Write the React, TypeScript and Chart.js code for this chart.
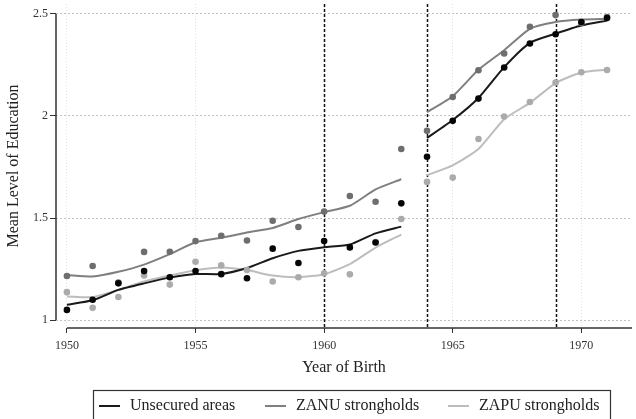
import React, { useEffect, useRef } from "react";
import { Chart, registerables } from "chart.js";

Chart.register(...registerables);

// ---- data ----
const years = [1950, 1951, 1952, 1953, 1954, 1955, 1956, 1957, 1958, 1959, 1960, 1961, 1962, 1963, 1964, 1965, 1966, 1967, 1968, 1969, 1970, 1971];
const unsecuredPoints = [1.05, 1.1, 1.18, 1.24, 1.21, 1.24, 1.225, 1.205, 1.35, 1.28, 1.387, 1.356, 1.38, 1.572, 1.8, 1.976, 2.085, 2.237, 2.355, 2.4, 2.46, 2.48];
const zanuPoints = [1.216, 1.265, 1.184, 1.334, 1.335, 1.387, 1.413, 1.39, 1.487, 1.456, 1.532, 1.608, 1.58, 1.838, 1.927, 2.093, 2.224, 2.306, 2.437, 2.494, 2.455, 2.485];
const zapuPoints = [1.137, 1.06, 1.113, 1.219, 1.174, 1.286, 1.268, 1.245, 1.189, 1.21, 1.229, 1.224, 1.382, 1.495, 1.677, 1.698, 1.887, 1.997, 2.068, 2.164, 2.214, 2.225];
const unsecuredFit = [1.075, 1.097, 1.148, 1.18, 1.208, 1.226, 1.226, 1.255, 1.303, 1.339, 1.357, 1.37, 1.425, 1.458, 1.892, 1.98, 2.088, 2.239, 2.358, 2.403, 2.443, 2.467];
const zanuFit = [1.221, 1.214, 1.237, 1.272, 1.323, 1.381, 1.403, 1.429, 1.451, 1.495, 1.529, 1.56, 1.64, 1.69, 2.019, 2.097, 2.226, 2.322, 2.427, 2.46, 2.472, 2.476];
const zapuFit = [1.116, 1.113, 1.148, 1.189, 1.218, 1.244, 1.258, 1.245, 1.218, 1.21, 1.225, 1.274, 1.355, 1.419, 1.71, 1.758, 1.838, 1.984, 2.064, 2.161, 2.213, 2.226];
const seriesNames = ["Unsecured areas", "ZANU strongholds", "ZAPU strongholds"];
const breakYears = [1960, 1964, 1969];
const xTicks = [1950, 1955, 1960, 1965, 1970];
const yTicks = [1, 1.5, 2, 2.5];
const lastYearBeforeGap = 1963;

const FONT = "'Liberation Serif', 'DejaVu Serif', serif";
const lineColors = ["#1a1a1a", "#7f7f7f", "#bdbdbd"];
const pointColors = ["#050505", "#6e6e6e", "#ababab"];

function toPoints(vals: number[]) {
  return years.map((yr, i) => ({ x: yr, y: vals[i] }));
}
function toLine(vals: number[]) {
  const out: { x: number; y: number | null }[] = [];
  years.forEach((yr, i) => {
    out.push({ x: yr, y: vals[i] });
    if (yr === lastYearBeforeGap) out.push({ x: yr + 0.5, y: null });
  });
  return out;
}

const decorPlugin = {
  id: "decor",
  beforeDatasetsDraw(chart: any) {
    const { ctx, chartArea, scales } = chart;
    ctx.save();
    ctx.strokeStyle = "#111";
    ctx.lineWidth = 1.5;
    ctx.setLineDash([3, 2]);
    breakYears.forEach((yr) => {
      const px = Math.round(scales.x.getPixelForValue(yr)) + 0.5;
      ctx.beginPath();
      ctx.moveTo(px, chartArea.top);
      ctx.lineTo(px, chartArea.bottom);
      ctx.stroke();
    });
    ctx.restore();
  },
  afterDraw(chart: any) {
    const { ctx, chartArea, scales } = chart;
    ctx.save();
    // axes
    ctx.strokeStyle = "#333";
    ctx.lineWidth = 1.5;
    ctx.setLineDash([]);
    const ax = chartArea.left;
    ctx.beginPath();
    ctx.moveTo(ax, scales.y.getPixelForValue(yTicks[yTicks.length - 1]));
    ctx.lineTo(ax, scales.y.getPixelForValue(yTicks[0]));
    ctx.stroke();
    ctx.beginPath();
    ctx.moveTo(scales.x.getPixelForValue(xTicks[0]), chartArea.bottom);
    ctx.lineTo(chartArea.right, chartArea.bottom);
    ctx.stroke();

    // legend
    ctx.font = `16px ${FONT}`;
    ctx.textBaseline = "middle";
    ctx.textAlign = "left";
    const top = 390;
    const cy = 406;
    const starts = [99, 265, 448];
    let right = 610;
    seriesNames.forEach((name, i) => {
      const x0 = starts[i];
      ctx.strokeStyle = lineColors[i];
      ctx.lineWidth = 2;
      ctx.beginPath();
      ctx.moveTo(x0, cy);
      ctx.lineTo(x0 + 21, cy);
      ctx.stroke();
      ctx.fillStyle = "#222";
      ctx.fillText(name, x0 + 31, cy);
      right = Math.max(right, x0 + 31 + ctx.measureText(name).width + 6);
    });
    ctx.strokeStyle = "#333";
    ctx.lineWidth = 1.2;
    ctx.strokeRect(93.5, top + 0.5, right - 93, 40);
    ctx.restore();
  },
};

export default function App() {
  const ref = useRef<HTMLCanvasElement | null>(null);
  useEffect(() => {
    if (!ref.current) return;
    const fits = [unsecuredFit, zanuFit, zapuFit];
    const pts = [unsecuredPoints, zanuPoints, zapuPoints];
    const datasets: any[] = [];
    pts.forEach((p, i) => {
      datasets.push({
        type: "scatter",
        label: seriesNames[i] + " (obs)",
        data: toPoints(p),
        pointRadius: 3.3,
        pointBackgroundColor: pointColors[i],
        pointBorderColor: pointColors[i],
        pointBorderWidth: 0,
        showLine: false,
        order: 1,
      });
    });
    fits.forEach((f, i) => {
      datasets.push({
        type: "line",
        label: seriesNames[i],
        data: toLine(f),
        borderColor: lineColors[i],
        borderWidth: 2,
        pointRadius: 0,
        tension: 0.2,
        spanGaps: false,
        fill: false,
        order: 2,
      });
    });

    const chart = new Chart(ref.current, {
      type: "scatter",
      data: { datasets },
      plugins: [decorPlugin],
      options: {
        animation: false,
        responsive: false,
        devicePixelRatio: 1,
        layout: { padding: { left: 0, right: 0, top: 0, bottom: 38 } },
        plugins: { legend: { display: false }, tooltip: { enabled: false } },
        scales: {
          x: {
            type: "linear",
            min: 1949.575,
            max: 1971.97,
            afterBuildTicks: (s: any) => {
              s.ticks = xTicks.map((v) => ({ value: v }));
            },
            afterFit: (s: any) => {
              s.height = 53;
              s.paddingLeft = 0;
              s.paddingRight = 0;
            },
            grid: { color: "#e4e4e4", tickColor: "#333", tickLength: 5, lineWidth: 1 },
            border: { display: false, dash: [1, 2] },
            ticks: {
              font: { family: FONT, size: 12 },
              color: "#333",
              padding: 6,
              maxRotation: 0,
              callback: (v: any) => String(v),
            },
            title: {
              display: true,
              text: "Year of Birth",
              font: { family: FONT, size: 16 },
              color: "#222",
              padding: { top: 4, bottom: 4 },
            },
          },
          y: {
            type: "linear",
            min: 0.9613,
            max: 2.5484,
            afterBuildTicks: (s: any) => {
              s.ticks = yTicks.map((v) => ({ value: v }));
            },
            afterFit: (s: any) => {
              s.width = 56;
              s.paddingTop = 0;
              s.paddingBottom = 0;
            },
            grid: { color: "#c2c2c2", tickColor: "#333", tickLength: 6, lineWidth: 1 },
            border: { display: false, dash: [2, 2] },
            ticks: {
              font: { family: FONT, size: 12 },
              color: "#333",
              padding: 2,
              callback: (v: any) => String(v),
            },
            title: {
              display: true,
              text: "Mean Level of Education",
              font: { family: FONT, size: 16 },
              color: "#222",
              padding: { top: 4, bottom: 4 },
            },
          },
        },
      } as any,
    });
    return () => chart.destroy();
  }, []);

  return (
    <div style={{ position: "absolute", left: 0, top: 0, width: 636, height: 419, background: "#fff" }}>
      <canvas ref={ref} width={636} height={419} style={{ display: "block" }} />
    </div>
  );
}
